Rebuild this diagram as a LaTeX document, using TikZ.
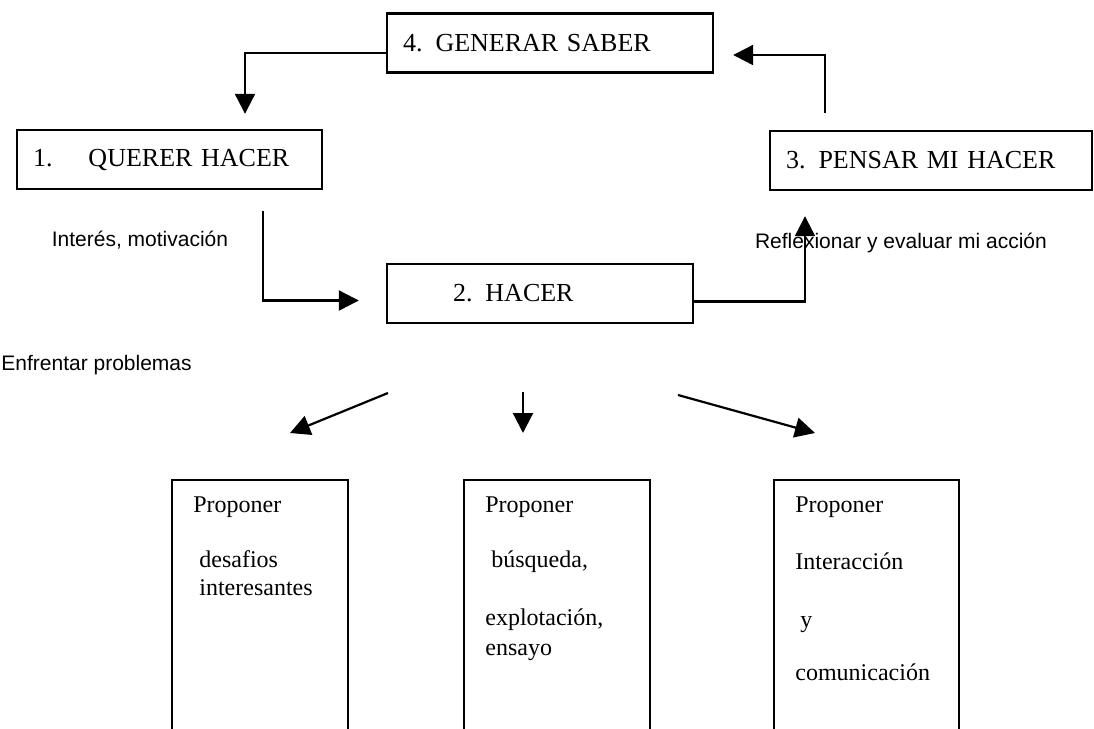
\documentclass[tikz,border=0pt]{standalone}
\usepackage{fontspec}
\setmainfont{Liberation Serif}
\newfontfamily\arialfont{Liberation Sans}
\usetikzlibrary{positioning,arrows.meta}

\begin{document}
\begin{tikzpicture}[x=0.5pt, y=-0.5pt,
  box/.style = {draw, line width=1.2pt, minimum height=29.5pt,
    inner xsep=8pt, align=left, font=\fontsize{13}{15}\selectfont},
  colbox/.style = {anchor=north west, inner sep=0pt, minimum height=126pt},
  coltext/.style = {inner sep=0pt, align=left,
    font=\fontsize{12}{14}\selectfont},
  lbl/.style = {font=\arialfont\fontsize{10.5}{12}\selectfont},
  frame/.style = {line width=1.2pt},
  arr/.style = {line width=1.1pt, -{Triangle[length=10pt,width=10pt]}}
  ]
  \useasboundingbox (0,0) rectangle (1094,729);

  \node (gen) [box, text width=147pt] at (550,43) {4. GENERAR SABER};
  \node (quer) [box, text width=136.5pt] at (169.5,159.5) {1.\hspace{18pt}QUERER HACER};
  \node (pensar) [box, text width=145pt] at (931,160.5) {3. PENSAR MI HACER};
  \node (hacer) [box, text width=137pt] at (540,293.5) {\hspace*{25pt}2. HACER};

  \node (interes) [lbl] at (140,240) {Interés, motivación};
  \node (reflex) [lbl, anchor=west] at (748,243) {Reflexionar y evaluar mi acción};
  \node (enfrentar) [lbl, anchor=west, inner xsep=0pt] at (1,365) {Enfrentar problemas};

  \draw [arr] ([yshift=-5pt]gen.west) -| ([xshift=37.75pt,yshift=7.5pt]quer.north);
  \draw [arr] ([xshift=46.75pt,yshift=-10.5pt]quer.south) |- ([xshift=-13.5pt,yshift=-3.5pt]hacer.west);
  \draw [arr] ([yshift=-4pt]hacer.east) -| ([xshift=-63pt,yshift=-12.5pt]pensar.south);
  \draw [arr] ([xshift=-53pt,yshift=8.5pt]pensar.north) |- ([xshift=9.5pt,yshift=-6pt]gen.east);

  \node (colA) [colbox, minimum width=87.5pt] at (172,480) {};
  \node (colB) [colbox, minimum width=92.5pt] at (464,480) {};
  \node (colC) [colbox, minimum width=92pt] at (774,480) {};
  \foreach \c in {colA,colB,colC}
    \draw [frame] (\c.south west) |- (\c.north east) -- (\c.south east);

  \node (txtA) [coltext, below right=8pt and 10.5pt of colA.north west]
    {Proponer\\[13.5pt]\hspace*{3pt}desafios\\\hspace*{3pt}interesantes};
  \node (txtB) [coltext, below right=8pt and 10.5pt of colB.north west]
    {Proponer\\[13.5pt]\hspace*{3pt}búsqueda,\\[15pt]explotación,\\[1pt]ensayo};
  \node (txtC) [coltext, below right=8pt and 10.5pt of colC.north west]
    {Proponer\\[14.5pt]Interacción\\[15pt]\hspace*{2.5pt}y\\[12.5pt]comunicación};

  \coordinate (sA) at (388,393);
  \coordinate (eA) at (290,433);
  \coordinate (sB) at (523,392);
  \coordinate (eB) at (523,433);
  \coordinate (sC) at (678,395);
  \coordinate (eC) at (815,433);
  \draw [arr] (sA) -- (eA);
  \draw [arr] (sB) -- (eB);
  \draw [arr] (sC) -- (eC);
\end{tikzpicture}
\end{document}
